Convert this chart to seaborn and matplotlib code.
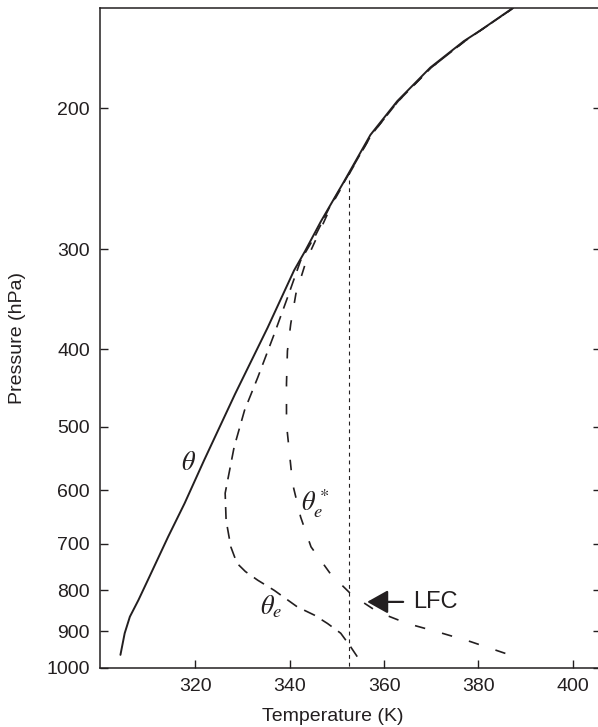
import pandas as pd
import matplotlib
matplotlib.use('Agg')
import matplotlib.pyplot as plt
import seaborn as sns
from matplotlib.ticker import NullLocator

# Perfis (pressao em hPa, temperatura potencial em K)
theta_p = [963, 905, 863, 823, 777, 686, 623, 551, 455, 376, 319, 302, 277, 247, 216, 196, 178, 165, 160, 150]
theta_K = [304.1, 305.0, 306.1, 307.9, 309.9, 314.2, 317.7, 321.8, 328.4, 335.3, 340.9, 343.2, 346.6,
           351.5, 357.1, 362.8, 369.8, 376.9, 380.4, 387.3]

thetae_p = [968, 941, 905, 880, 859, 839, 800, 777, 758, 740, 706, 654, 605, 530, 477, 434, 383, 345,
            310, 288, 264, 247, 216, 196, 178, 165, 150]
thetae_K = [354.3, 352.9, 350.8, 348.0, 345.2, 341.6, 336.7, 333.2, 330.6, 328.8, 327.5, 326.5, 326.3,
            328.2, 330.4, 333.2, 336.7, 339.5, 342.3, 345.5, 348.7, 351.6, 357.3, 363.0, 370.0, 377.1, 387.4]

thetaes_p = [959, 927, 901, 880, 851, 811, 764, 706, 648, 589, 496, 442, 402, 372, 341, 310, 264, 247,
             216, 196, 178, 165, 150]
thetaes_K = [385.7, 378.3, 371.2, 364.9, 358.6, 353.2, 348.7, 344.5, 342.3, 340.6, 339.3, 339.3, 339.5,
             340.2, 341.3, 343.5, 348.9, 351.7, 357.3, 363.0, 370.0, 377.1, 387.4]

lfc_K = [352.6, 352.6]
lfc_p = [246, 1000]

xticks = [320, 340, 360, 380, 400]
yticks = [200, 300, 400, 500, 600, 700, 800, 900, 1000]

cor = '#231f20'

sns.set_style('ticks')
plt.rcParams['font.family'] = ['Liberation Sans', 'DejaVu Sans']
plt.rcParams['mathtext.fontset'] = 'stix'

fig = plt.figure(figsize=(5.98, 7.27), dpi=100)
ax = fig.add_axes([0.1667, 0.0812, 0.8385, 0.9078])

sns.lineplot(x=theta_K, y=theta_p, sort=False, estimator=None, ax=ax, color=cor, lw=1.4)
sns.lineplot(x=thetae_K, y=thetae_p, sort=False, estimator=None, ax=ax, color=cor, lw=1.2,
             linestyle=(0, (7.2, 4.8)))
sns.lineplot(x=thetaes_K, y=thetaes_p, sort=False, estimator=None, ax=ax, color=cor, lw=1.2,
             linestyle=(0, (6.3, 10.5)))
sns.lineplot(x=lfc_K, y=lfc_p, sort=False, estimator=None, ax=ax, color=cor, lw=0.8,
             linestyle=(0, (3.5, 3.5)))

ax.set_yscale('log')
ax.set_xlim(299.7, 406)
ax.set_ylim(1000, 150)
ax.set_yticks(yticks)
ax.set_yticklabels([str(v) for v in yticks])
ax.yaxis.set_minor_locator(NullLocator())
ax.set_xticks(xticks)
ax.set_xticklabels([str(v) for v in xticks])

ax.tick_params(direction='in', length=6, width=1, colors=cor, labelsize=14, pad=7,
               top=False, right=True, labelright=False)
for s in ax.spines.values():
    s.set_color(cor)
    s.set_linewidth(1.1)

ax.set_xlabel('Temperature (K)', fontsize=14, color=cor)
ax.set_ylabel('Pressure (hPa)', fontsize=14, color=cor)
ax.xaxis.label.set_va('center')
ax.xaxis.set_label_coords(0.465, -0.0742)
ax.yaxis.label.set_va('center')
ax.yaxis.set_label_coords(-0.163, 0.5)

# Rotulos das curvas
ax.text(318.6, 555, r'$\theta$', fontsize=19, color=cor, ha='center', va='center')
ax.text(336.0, 839, r'$\theta_e$', fontsize=19, color=cor, ha='center', va='center')
ax.text(345.3, 623, r'$\theta_e^*$', fontsize=19, color=cor, ha='center', va='center')

ax.annotate('LFC', xy=(356.4, 827), xytext=(366.2, 827), fontsize=17, color=cor,
            ha='left', va='center',
            arrowprops=dict(arrowstyle='-|>,head_length=0.75,head_width=0.42', color=cor,
                            lw=1.6, shrinkA=5, shrinkB=0, mutation_scale=17))

fig.savefig('out.png', dpi=100)
